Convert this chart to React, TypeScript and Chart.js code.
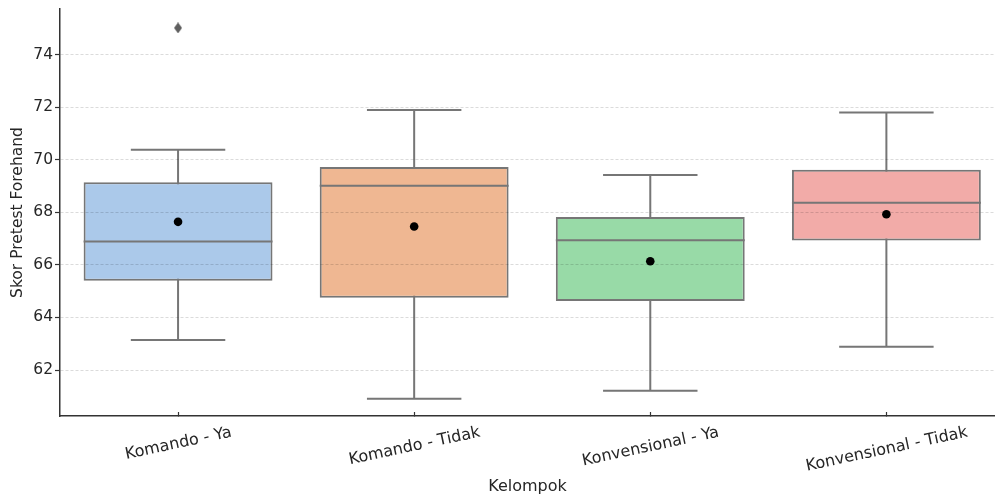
import React, { useEffect, useRef } from "react";
import { Chart, registerables } from "chart.js";

Chart.register(...registerables);

// ---- data ----
const categories = ["Komando - Ya", "Komando - Tidak", "Konvensional - Ya", "Konvensional - Tidak"];
const whiskerLow = [63.14, 60.91, 61.21, 62.89];
const q1 = [65.4, 64.75, 64.63, 66.93];
const median = [66.89, 69.01, 66.94, 68.37];
const q3 = [69.15, 69.73, 67.82, 69.62];
const whiskerHigh = [70.38, 71.9, 69.42, 71.8];
const means = [67.64, 67.46, 66.14, 67.93];
const outlierGroup = [0];
const outlierValue = [75.02];
const yTicks = [62, 64, 66, 68, 70, 72, 74];

const boxColors = ["#abc9ea", "#efb792", "#98daa7", "#f2aba8"];
const EDGE = "#767676";
const TEXT = "#262626";
const AXIS = "#333333";
const FAMILY = '"DejaVu Sans", sans-serif';
const FS = 15.5;
const XFS = 16;
const CAP = 0.2;
const HALF = 0.4;

const gap = (i: number) => ({ x: i, y: null as any });

const whiskerData = categories.flatMap((_, i) => [
  { x: i, y: whiskerLow[i] },
  { x: i, y: whiskerHigh[i] },
  gap(i),
]);
const capData = categories.flatMap((_, i) => [
  { x: i - CAP, y: whiskerLow[i] },
  { x: i + CAP, y: whiskerLow[i] },
  gap(i),
  { x: i - CAP, y: whiskerHigh[i] },
  { x: i + CAP, y: whiskerHigh[i] },
  gap(i),
]);
const medianData = categories.flatMap((_, i) => [
  { x: i - HALF, y: median[i] },
  { x: i + HALF, y: median[i] },
  gap(i),
]);

function makeDiamond(): HTMLCanvasElement {
  const c = document.createElement("canvas");
  c.width = 8;
  c.height = 11;
  const g = c.getContext("2d")!;
  g.fillStyle = "#5f5f5f";
  g.beginPath();
  g.moveTo(4, 0);
  g.lineTo(8, 5.5);
  g.lineTo(4, 11);
  g.lineTo(0, 5.5);
  g.closePath();
  g.fill();
  return c;
}

const xLabelPlugin = {
  id: "rotatedXLabels",
  afterDraw(chart: any) {
    const { ctx } = chart;
    const x = chart.scales.x;
    const ang = (12 * Math.PI) / 180;
    const capH = 0.73 * XFS;
    ctx.save();
    ctx.font = `${XFS}px ${FAMILY}`;
    ctx.fillStyle = TEXT;
    ctx.textAlign = "center";
    ctx.textBaseline = "alphabetic";
    categories.forEach((label, i) => {
      const w = ctx.measureText(label).width;
      const bboxH = w * Math.sin(ang) + capH * Math.cos(ang);
      const cx = x.getPixelForValue(i);
      const cy = x.top + 9 + bboxH / 2;
      ctx.save();
      ctx.translate(cx, cy);
      ctx.rotate(-ang);
      ctx.fillText(label, 0, capH / 2);
      ctx.restore();
    });
    ctx.restore();
  },
};

export default function App() {
  const ref = useRef<HTMLCanvasElement | null>(null);

  useEffect(() => {
    if (!ref.current) return;
    const diamond = makeDiamond();
    const chart = new Chart(ref.current, {
      type: "bar",
      data: {
        datasets: [
          {
            type: "bar",
            data: categories.map((_, i) => ({ x: i, y: [q1[i], q3[i]] })) as any,
            backgroundColor: boxColors,
            borderColor: EDGE,
            borderWidth: 2,
            borderSkipped: false,
            barPercentage: 0.8,
            categoryPercentage: 1,
            order: 5,
          } as any,
          {
            type: "line",
            data: whiskerData as any,
            borderColor: EDGE,
            borderWidth: 2,
            pointRadius: 0,
            spanGaps: false,
            order: 6,
          },
          {
            type: "line",
            data: capData as any,
            borderColor: EDGE,
            borderWidth: 2,
            pointRadius: 0,
            spanGaps: false,
            order: 3,
          },
          {
            type: "line",
            data: medianData as any,
            borderColor: EDGE,
            borderWidth: 2,
            pointRadius: 0,
            spanGaps: false,
            order: 3,
          },
          {
            type: "line",
            data: means.map((m, i) => ({ x: i, y: m })) as any,
            showLine: false,
            pointRadius: 4.3,
            pointBackgroundColor: "#000000",
            pointBorderWidth: 0,
            order: 1,
          },
          {
            type: "line",
            data: outlierValue.map((v, k) => ({ x: outlierGroup[k], y: v })) as any,
            showLine: false,
            pointStyle: diamond as any,
            pointRadius: 5,
            order: 1,
          },
        ],
      },
      options: {
        animation: false,
        responsive: true,
        maintainAspectRatio: false,
        layout: { autoPadding: false, padding: { top: 9, left: 0, right: 0, bottom: 0 } },
        plugins: { legend: { display: false }, tooltip: { enabled: false } },
        scales: {
          x: {
            type: "linear",
            offset: false,
            bounds: "data",
            min: -0.5,
            max: 3.46,
            afterBuildTicks: (s: any) => {
              s.ticks = categories.map((_, i) => ({ value: i }));
            },
            afterFit: (s: any) => {
              s.height = 79;
              s.paddingLeft = 0;
              s.paddingRight = 0;
            },
            ticks: { display: false },
            grid: {
              offset: false,
              drawOnChartArea: false,
              drawTicks: true,
              tickLength: -4,
              tickColor: AXIS,
              tickWidth: 1.2,
            },
            border: { display: true, color: AXIS, width: 1.5 },
            title: {
              display: true,
              text: "Kelompok",
              color: TEXT,
              font: { family: FAMILY, size: XFS },
              padding: { top: 0, bottom: -1.5 },
            },
          },
          y: {
            type: "linear",
            min: 60.25,
            max: 75.74,
            afterBuildTicks: (s: any) => {
              s.ticks = yTicks.map((v) => ({ value: v }));
            },
            afterFit: (s: any) => {
              s.width = 60;
              s.paddingTop = 0;
              s.paddingBottom = 0;
            },
            ticks: {
              color: TEXT,
              font: { family: FAMILY, size: FS },
              padding: 2,
            },
            grid: {
              color: "rgba(0,0,0,0.14)",
              lineWidth: 1,
              drawTicks: true,
              tickLength: 5,
              tickColor: AXIS,
              tickWidth: 1.2,
              z: 1,
            } as any,
            border: { display: true, color: AXIS, width: 1.5, dash: [3, 2], z: 2 } as any,
            title: {
              display: true,
              text: "Skor Pretest Forehand",
              color: TEXT,
              font: { family: FAMILY, size: FS },
              padding: { top: 9, bottom: 0 },
            },
          },
        },
      },
      plugins: [xLabelPlugin],
    });
    return () => chart.destroy();
  }, []);

  return (
    <div style={{ position: "absolute", left: 0, top: 0, width: 995, height: 495, background: "#ffffff" }}>
      <canvas ref={ref} />
    </div>
  );
}
